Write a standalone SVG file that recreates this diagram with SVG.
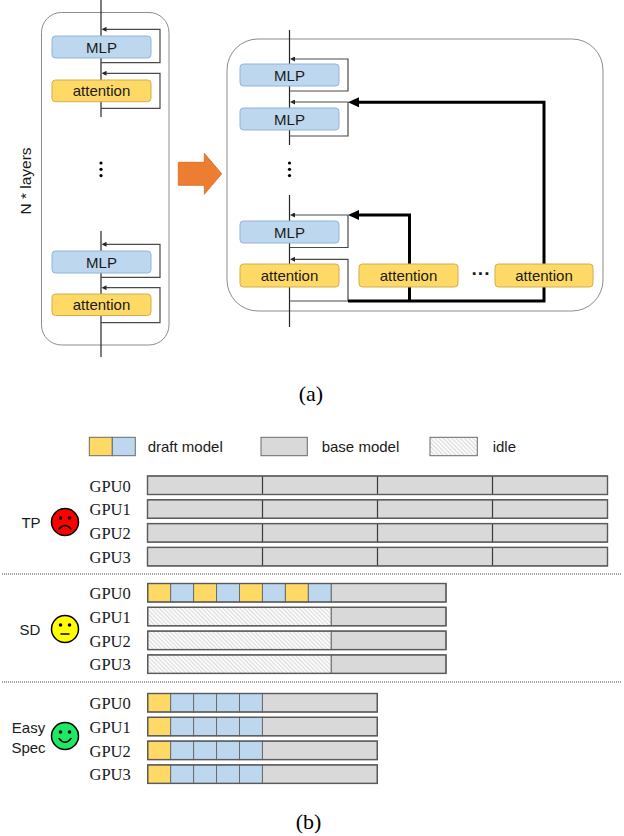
<svg xmlns="http://www.w3.org/2000/svg" width="624" height="836" viewBox="0 0 624 836">
<style>
.frame{fill:#fff;stroke:#8c8c8c;stroke-width:1}
.mlp{fill:#bdd7ee;stroke:#92b4d6;stroke-width:1}
.att{fill:#ffd966;stroke:#cfae4e;stroke-width:1}
.lbl{font-family:"Liberation Sans",Arial,sans-serif;font-size:15px;fill:#1a1a1a;text-anchor:middle}
.sans{font-family:"Liberation Sans",Arial,sans-serif;font-size:15px;fill:#1a1a1a}
.serif{font-family:"Liberation Serif","Times New Roman",serif;font-size:16.5px;fill:#1a1a1a}
.cap{font-family:"Liberation Serif","Times New Roman",serif;font-size:22px;fill:#000;text-anchor:middle}
.spine{fill:none;stroke:#262626;stroke-width:1.2}
.thin{fill:none;stroke:#4a4a4a;stroke-width:1.2}
.thick{fill:none;stroke:#000;stroke-width:3}
.dot{fill:#000}
.base{fill:#d9d9d9;stroke:#6b6b6b;stroke-width:1}
.y{fill:#ffd966;stroke:#6b6b6b;stroke-width:1}
.b{fill:#bdd7ee;stroke:#6b6b6b;stroke-width:1}
.idle{fill:url(#hatch);stroke:#6b6b6b;stroke-width:1}
.outl{fill:none;stroke:#5a5a5a;stroke-width:1.4}
.div{stroke:#3a3a3a;stroke-width:1.2}
.sep{stroke:#444;stroke-width:1.2;stroke-dasharray:1 1}
.face{stroke:#000;stroke-width:1.5}
.feat{fill:none;stroke:#000;stroke-width:1.5;stroke-linecap:round}
</style>
<defs>
<marker id="ah" markerUnits="userSpaceOnUse" markerWidth="5" markerHeight="5" refX="1" refY="2.5" orient="auto">
<path d="M0,0 L5,2.5 L0,5 z" fill="#262626"/>
</marker>
<marker id="ahk" markerUnits="userSpaceOnUse" markerWidth="11" markerHeight="10" refX="2" refY="5" orient="auto">
<path d="M0,0 L11,5 L0,10 z" fill="#000"/>
</marker>
<pattern id="hatch" patternUnits="userSpaceOnUse" width="3" height="3" patternTransform="rotate(-45)">
<rect width="3" height="3" fill="#fafafa"/>
<line x1="0" y1="0" x2="0" y2="3" stroke="#bdbdbd" stroke-width="1"/>
</pattern>
</defs>

<!-- ===== (a) ===== -->
<g id="left-frame">
<rect class="frame" x="41.5" y="12.5" width="127.5" height="332.5" rx="20"/>
<text class="sans" transform="translate(31,181) rotate(-90)" text-anchor="middle" style="font-size:15.5px">N * layers</text>
</g>
<g id="right-frame">
<rect class="frame" x="227" y="39" width="376" height="272" rx="31"/>
</g>

<g id="connectors">
<line class="spine" x1="101" y1="0" x2="101" y2="117"/>
<line class="spine" x1="101" y1="231" x2="101" y2="357"/>
<path class="thin" d="M101,62.7 H160 V29.3 H105.5" marker-end="url(#ah)"/>
<path class="thin" d="M101,108.3 H160 V73.3 H105.5" marker-end="url(#ah)"/>
<path class="thin" d="M101,277.3 H160 V244.3 H105.5" marker-end="url(#ah)"/>
<path class="thin" d="M101,322.7 H160 V287.7 H105.5" marker-end="url(#ah)"/>
<line class="spine" x1="289.5" y1="30" x2="289.5" y2="145"/>
<line class="spine" x1="289.5" y1="195" x2="289.5" y2="327"/>
<path class="thin" d="M289.5,91 H348 V59 H294" marker-end="url(#ah)"/>
<path class="thin" d="M289.5,136 H348 V102 H294" marker-end="url(#ah)"/>
<path class="thin" d="M289.5,247.5 H348 V215 H294" marker-end="url(#ah)"/>
<path class="thin" d="M289.5,301 H348 V259.3 H294" marker-end="url(#ah)"/>
<path class="thick" d="M348,301 H544 V102.3 H357" marker-end="url(#ahk)"/>
<path class="thick" d="M409.5,301 V215 H357" marker-end="url(#ahk)"/>
<polygon points="178.3,162.3 204.3,162.3 204.3,153.3 221.7,173.8 204.3,194.3 204.3,185.3 178.3,185.3" fill="#ed7d31" stroke="#d2691e" stroke-width="0.8"/>
</g>

<g id="L-mlp1"><rect class="mlp" x="52" y="36" width="99" height="22" rx="3.5"/><text class="lbl" x="101.5" y="52.5">MLP</text></g>
<g id="L-att1"><rect class="att" x="52" y="80" width="99" height="21.7" rx="3.5"/><text class="lbl" x="101.5" y="96">attention</text></g>
<g id="L-dots"><circle class="dot" cx="101" cy="163" r="1.6"/><circle class="dot" cx="101" cy="169.3" r="1.6"/><circle class="dot" cx="101" cy="175.6" r="1.6"/></g>
<g id="L-mlp2"><rect class="mlp" x="52" y="251" width="99" height="22" rx="3.5"/><text class="lbl" x="101.5" y="267.5">MLP</text></g>
<g id="L-att2"><rect class="att" x="52" y="294" width="99" height="21.5" rx="3.5"/><text class="lbl" x="101.5" y="310">attention</text></g>

<g id="R-mlp1"><rect class="mlp" x="240" y="64" width="99" height="22" rx="3.5"/><text class="lbl" x="289.5" y="80.5">MLP</text></g>
<g id="R-mlp2"><rect class="mlp" x="240" y="108" width="99" height="22" rx="3.5"/><text class="lbl" x="289.5" y="124.5">MLP</text></g>
<g id="R-dots"><circle class="dot" cx="289.5" cy="163" r="1.6"/><circle class="dot" cx="289.5" cy="169.3" r="1.6"/><circle class="dot" cx="289.5" cy="175.6" r="1.6"/></g>
<g id="R-mlp3"><rect class="mlp" x="240" y="221" width="99" height="22" rx="3.5"/><text class="lbl" x="289.5" y="237.5">MLP</text></g>
<g id="R-att1"><rect class="att" x="240" y="264" width="99" height="23" rx="3.5"/><text class="lbl" x="289.5" y="280.5">attention</text></g>
<g id="R-att2"><rect class="att" x="359" y="264" width="99" height="23" rx="3.5"/><text class="lbl" x="408.5" y="280.5">attention</text></g>
<g id="R-ellipsis"><text class="lbl" x="481" y="280" style="font-size:19px;font-weight:bold">···</text></g>
<g id="R-att3"><rect class="att" x="495" y="264" width="98" height="23" rx="3.5"/><text class="lbl" x="544" y="280.5">attention</text></g>

<text class="cap" x="311" y="401">(a)</text>

<!-- ===== (b) ===== -->
<g id="legend">
<rect class="y" x="89.3" y="437.3" width="23" height="18.4"/>
<rect class="b" x="112.3" y="437.3" width="23" height="18.4"/>
<text class="sans" x="147.7" y="452">draft model</text>
<rect class="base" x="261" y="437.3" width="46.3" height="18.4"/>
<text class="sans" x="321.7" y="452">base model</text>
<rect class="idle" x="430" y="437.3" width="47.3" height="18.4"/>
<text class="sans" x="492.7" y="452">idle</text>
</g>

<g id="TP">
<text class="sans" x="31" y="528" text-anchor="middle">TP</text>
<circle class="face" cx="65" cy="522" r="13.5" fill="#ff0000"/>
<circle cx="60.5" cy="518" r="1.8"/><circle cx="69.5" cy="518" r="1.8"/>
<path class="feat" d="M59,529 Q65,522 71,529"/>
<text class="serif" x="89.5" y="491.5">GPU0</text>
<text class="serif" x="89.5" y="515.3">GPU1</text>
<text class="serif" x="89.5" y="539.1">GPU2</text>
<text class="serif" x="89.5" y="562.9">GPU3</text>
<rect class="base" x="147.5" y="476" width="460" height="18.5"/>
<rect class="base" x="147.5" y="499.8" width="460" height="18.5"/>
<rect class="base" x="147.5" y="523.6" width="460" height="18.5"/>
<rect class="base" x="147.5" y="547.4" width="460" height="18.5"/>
<g class="div">
<line x1="262.5" y1="476" x2="262.5" y2="494.5"/><line x1="377.5" y1="476" x2="377.5" y2="494.5"/><line x1="492.5" y1="476" x2="492.5" y2="494.5"/>
<line x1="262.5" y1="499.8" x2="262.5" y2="518.3"/><line x1="377.5" y1="499.8" x2="377.5" y2="518.3"/><line x1="492.5" y1="499.8" x2="492.5" y2="518.3"/>
<line x1="262.5" y1="523.6" x2="262.5" y2="542.1"/><line x1="377.5" y1="523.6" x2="377.5" y2="542.1"/><line x1="492.5" y1="523.6" x2="492.5" y2="542.1"/>
<line x1="262.5" y1="547.4" x2="262.5" y2="565.9"/><line x1="377.5" y1="547.4" x2="377.5" y2="565.9"/><line x1="492.5" y1="547.4" x2="492.5" y2="565.9"/>
</g>
<rect class="outl" x="147.5" y="476" width="460" height="18.5"/>
<rect class="outl" x="147.5" y="499.8" width="460" height="18.5"/>
<rect class="outl" x="147.5" y="523.6" width="460" height="18.5"/>
<rect class="outl" x="147.5" y="547.4" width="460" height="18.5"/>
</g>

<line class="sep" x1="2" y1="574" x2="622" y2="574"/>

<g id="SD">
<text class="sans" x="30" y="635" text-anchor="middle">SD</text>
<circle class="face" cx="65" cy="629" r="13.5" fill="#ffff00"/>
<circle cx="60.5" cy="625" r="1.8"/><circle cx="69.5" cy="625" r="1.8"/>
<path class="feat" d="M61,634 H69"/>
<text class="serif" x="89.5" y="599">GPU0</text>
<text class="serif" x="89.5" y="622.8">GPU1</text>
<text class="serif" x="89.5" y="646.6">GPU2</text>
<text class="serif" x="89.5" y="670.4">GPU3</text>
<rect class="y" x="147.7" y="583.5" width="22.95" height="18.5"/>
<rect class="b" x="170.65" y="583.5" width="22.95" height="18.5"/>
<rect class="y" x="193.6" y="583.5" width="22.95" height="18.5"/>
<rect class="b" x="216.55" y="583.5" width="22.95" height="18.5"/>
<rect class="y" x="239.5" y="583.5" width="22.95" height="18.5"/>
<rect class="b" x="262.45" y="583.5" width="22.95" height="18.5"/>
<rect class="y" x="285.4" y="583.5" width="22.95" height="18.5"/>
<rect class="b" x="308.35" y="583.5" width="22.95" height="18.5"/>
<rect class="base" x="331.3" y="583.5" width="114.7" height="18.5"/>
<rect class="idle" x="147.7" y="607.3" width="183.6" height="18.5"/>
<rect class="base" x="331.3" y="607.3" width="114.7" height="18.5"/>
<rect class="idle" x="147.7" y="631.1" width="183.6" height="18.5"/>
<rect class="base" x="331.3" y="631.1" width="114.7" height="18.5"/>
<rect class="idle" x="147.7" y="654.9" width="183.6" height="18.5"/>
<rect class="base" x="331.3" y="654.9" width="114.7" height="18.5"/>
<rect class="outl" x="147.7" y="583.5" width="298.3" height="18.5"/>
<rect class="outl" x="147.7" y="607.3" width="298.3" height="18.5"/>
<rect class="outl" x="147.7" y="631.1" width="298.3" height="18.5"/>
<rect class="outl" x="147.7" y="654.9" width="298.3" height="18.5"/>
</g>

<line class="sep" x1="2" y1="682" x2="622" y2="682"/>

<g id="EasySpec">
<text class="sans" x="28.5" y="733" text-anchor="middle">Easy</text>
<text class="sans" x="28.5" y="752.5" text-anchor="middle">Spec</text>
<circle class="face" cx="65" cy="736" r="13.5" fill="#1ee864"/>
<circle cx="60.5" cy="732" r="1.8"/><circle cx="69.5" cy="732" r="1.8"/>
<path class="feat" d="M59,738.5 Q65,746 71,738.5"/>
<text class="serif" x="89.5" y="709">GPU0</text>
<text class="serif" x="89.5" y="732.8">GPU1</text>
<text class="serif" x="89.5" y="756.6">GPU2</text>
<text class="serif" x="89.5" y="780.4">GPU3</text>
<g id="es-rows">
<rect class="y" x="147.7" y="693.5" width="22.95" height="18.5"/>
<rect class="b" x="170.65" y="693.5" width="22.95" height="18.5"/>
<rect class="b" x="193.6" y="693.5" width="22.95" height="18.5"/>
<rect class="b" x="216.55" y="693.5" width="22.95" height="18.5"/>
<rect class="b" x="239.5" y="693.5" width="22.95" height="18.5"/>
<rect class="base" x="262.45" y="693.5" width="114.85" height="18.5"/>
<rect class="y" x="147.7" y="717.3" width="22.95" height="18.5"/>
<rect class="b" x="170.65" y="717.3" width="22.95" height="18.5"/>
<rect class="b" x="193.6" y="717.3" width="22.95" height="18.5"/>
<rect class="b" x="216.55" y="717.3" width="22.95" height="18.5"/>
<rect class="b" x="239.5" y="717.3" width="22.95" height="18.5"/>
<rect class="base" x="262.45" y="717.3" width="114.85" height="18.5"/>
<rect class="y" x="147.7" y="741.1" width="22.95" height="18.5"/>
<rect class="b" x="170.65" y="741.1" width="22.95" height="18.5"/>
<rect class="b" x="193.6" y="741.1" width="22.95" height="18.5"/>
<rect class="b" x="216.55" y="741.1" width="22.95" height="18.5"/>
<rect class="b" x="239.5" y="741.1" width="22.95" height="18.5"/>
<rect class="base" x="262.45" y="741.1" width="114.85" height="18.5"/>
<rect class="y" x="147.7" y="764.9" width="22.95" height="18.5"/>
<rect class="b" x="170.65" y="764.9" width="22.95" height="18.5"/>
<rect class="b" x="193.6" y="764.9" width="22.95" height="18.5"/>
<rect class="b" x="216.55" y="764.9" width="22.95" height="18.5"/>
<rect class="b" x="239.5" y="764.9" width="22.95" height="18.5"/>
<rect class="base" x="262.45" y="764.9" width="114.85" height="18.5"/>
</g>
<rect class="outl" x="147.7" y="693.5" width="229.6" height="18.5"/>
<rect class="outl" x="147.7" y="717.3" width="229.6" height="18.5"/>
<rect class="outl" x="147.7" y="741.1" width="229.6" height="18.5"/>
<rect class="outl" x="147.7" y="764.9" width="229.6" height="18.5"/>
</g>

<text class="cap" x="308.5" y="829">(b)</text>
</svg>
